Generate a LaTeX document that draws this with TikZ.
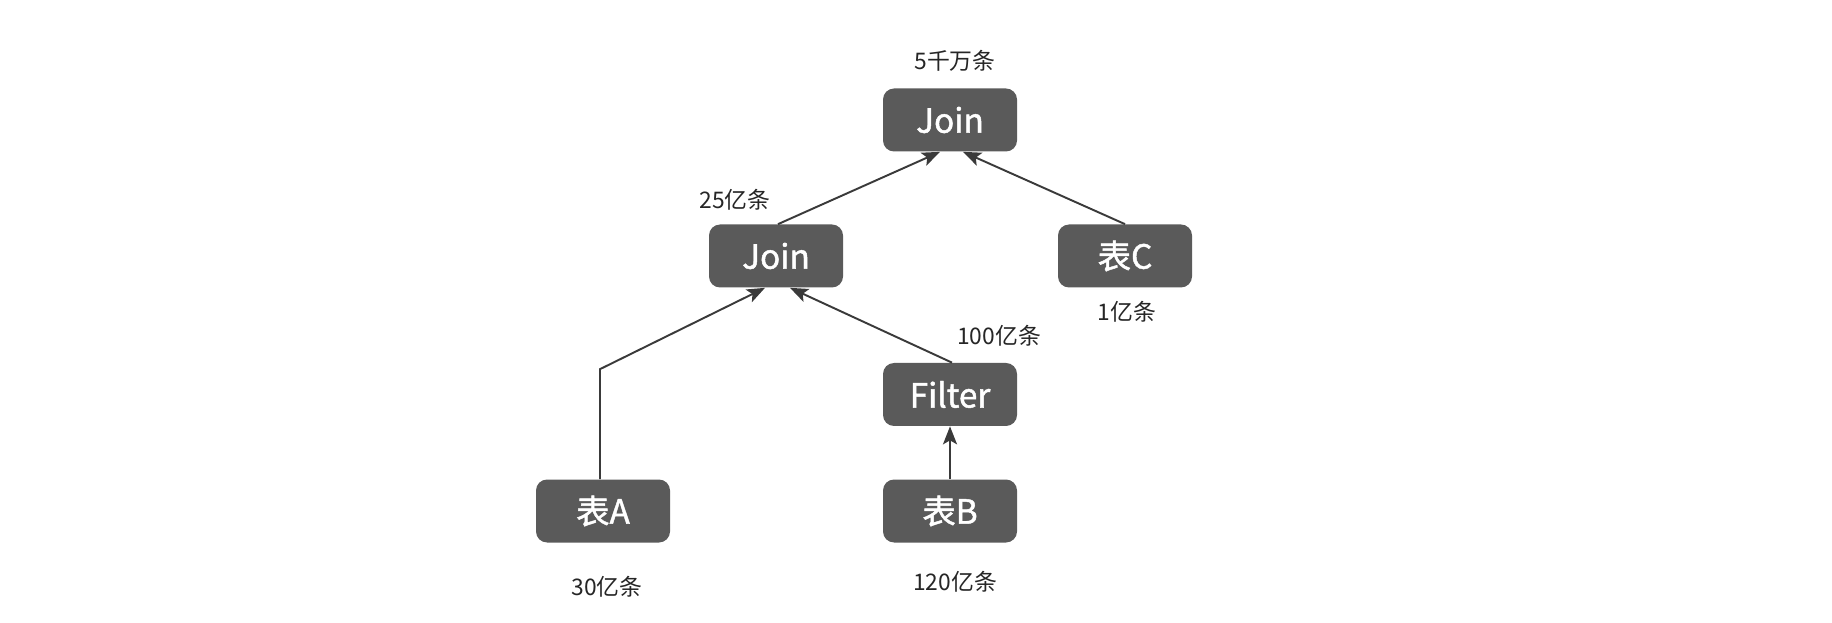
\documentclass[tikz,border=0pt]{standalone}
\usepackage{fontspec}
\setmainfont{Noto Sans CJK SC}
\newfontfamily\opfont{Noto Sans CJK SC}[FakeBold=1.4]
\usepackage{tikz}
\usetikzlibrary{calc}
\usetikzlibrary{arrows.meta}
\usetikzlibrary{positioning}
\definecolor{opgray}{HTML}{5A5A5A}
\definecolor{linegray}{HTML}{3A3A3A}
\tikzset{op/.style={rectangle,rounded corners=0.22cm,fill=opgray,text=white,minimum width=2.68cm,minimum height=1.26cm,inner sep=0pt,font=\opfont\fontsize{19}{19}\selectfont}}
\tikzset{rows/.style={text=black!85,inner sep=0pt,font=\fontsize{13}{13}\selectfont}}
\tikzset{flow/.style={draw=linegray,line width=1.1pt,-{Stealth[length=0.36cm,width=0.28cm,inset=0.08cm]}}}

\begin{document}
\begin{tikzpicture}
\useasboundingbox (0,0) rectangle (36.64,12.44);

\node[op] (J1) at (19.0, 10.04) {Join};
\node[op] (J2) at (15.52, 7.32) {Join};
\node[op] (TC) at (22.5, 7.32) {表C};
\node[op] (F) at (19.0, 4.55) {Filter};
\node[op] (TA) at (12.06, 2.22) {表A};
\node[op] (TB) at (19.0, 2.22) {表B};

\node[rows] (nJ1) at (19.1, 11.22) {5千万条};
\node[rows] (nJ2) at (14.7, 8.44) {25亿条};
\node[rows] (nTC) at (22.54, 6.2) {1亿条};
\node[rows] (nF) at (19.98, 5.72) {100亿条};
\node[rows] (nTA) at (12.14, 0.7) {30亿条};
\node[rows] (nTB) at (19.1, 0.8) {120亿条};

\coordinate (J1l) at ($(J1.south) + (-0.2, 0)$);
\coordinate (J1r) at ($(J1.south) + (0.26, 0)$);
\coordinate (J2l) at ($(J2.south) + (-0.22, 0)$);
\coordinate (J2r) at ($(J2.south) + (0.28, 0)$);
\coordinate (bend) at ($(TA.north) + (-0.06, 2.2)$);

\draw[flow] ($(J2.north) + (0.04, 0)$) -- (J1l);
\draw[flow] (TC.north) -- (J1r);
\draw[flow] ($(TA.north) + (-0.06, 0)$) -- (bend) -- (J2l);
\draw[flow] ($(F.north) + (0.04, 0)$) -- (J2r);
\draw[flow] (TB.north) -- (F.south);

\end{tikzpicture}
\end{document}
